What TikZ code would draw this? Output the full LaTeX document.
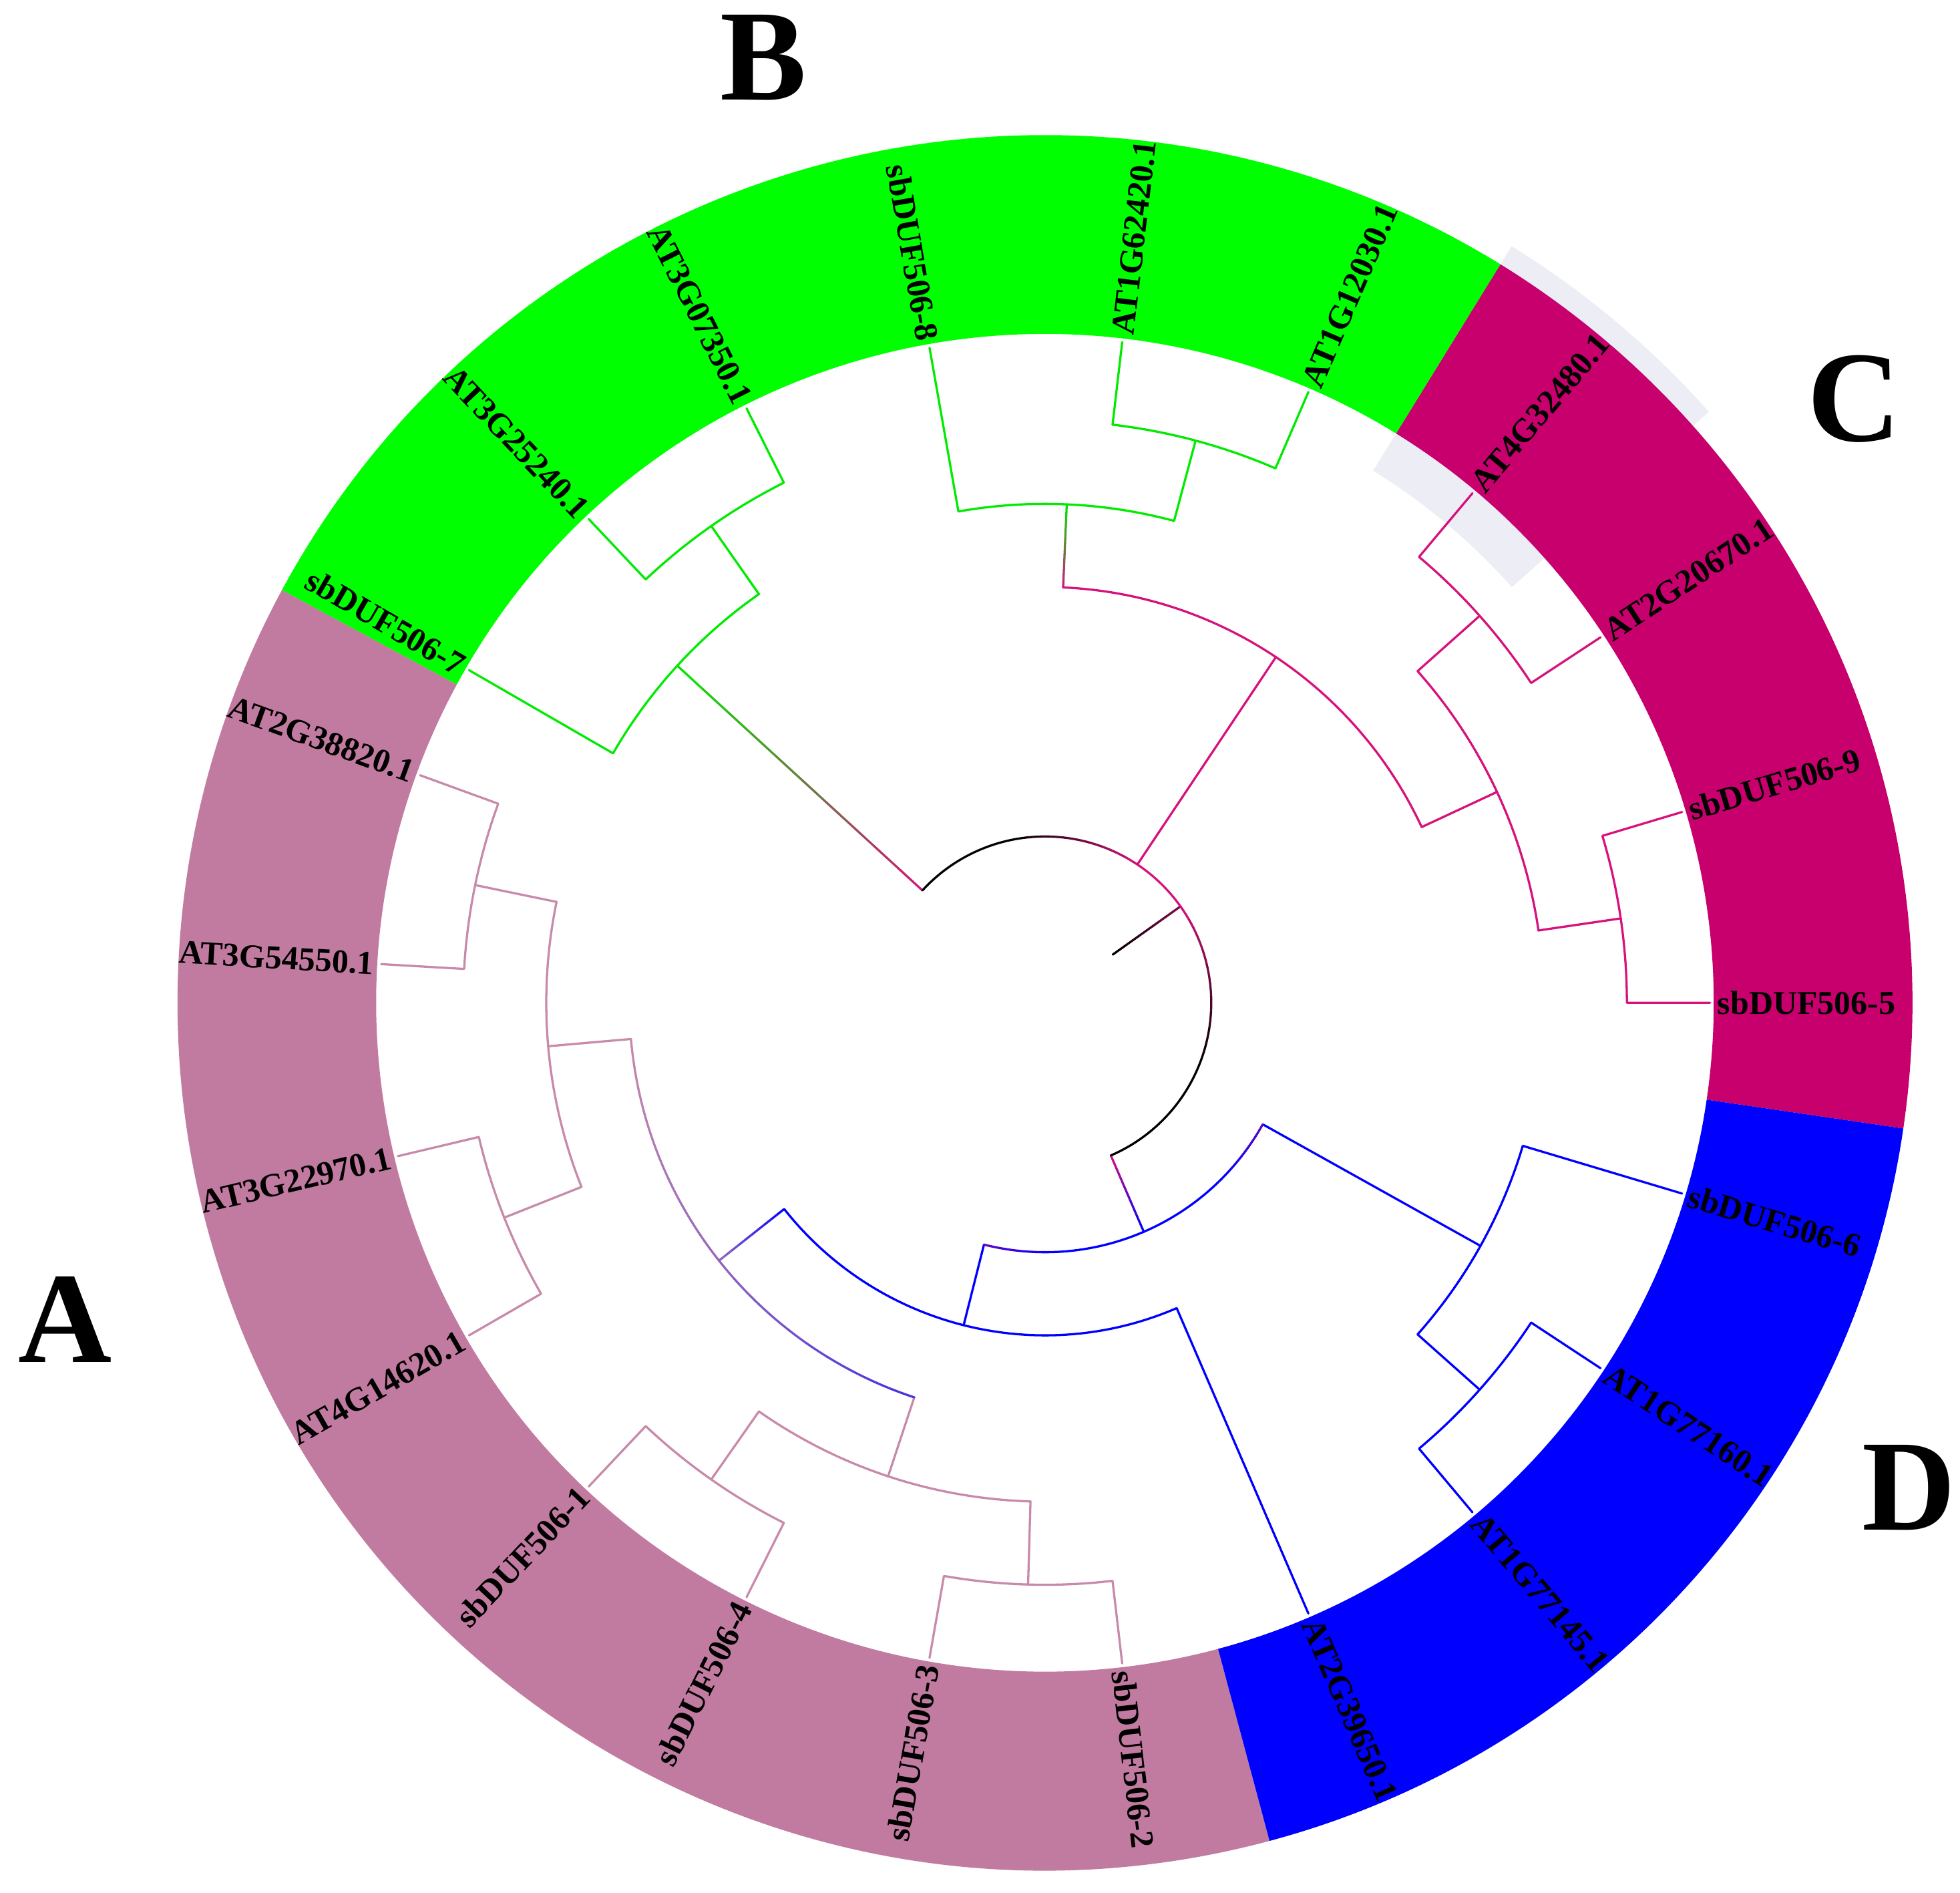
\documentclass[tikz,border=0pt]{standalone}
\usepackage{fontspec}
\setmainfont{Liberation Serif}
\usepackage{xcolor}

% ring colours
\definecolor{ringB}{RGB}{0,255,0}
\definecolor{ringC}{RGB}{200,0,110}
\definecolor{ringA}{RGB}{194,123,160}
\definecolor{ringD}{RGB}{0,0,255}
\definecolor{hilite}{RGB}{237,237,246}
% branch colours
\definecolor{cB}{RGB}{0,235,0}
\definecolor{cC}{RGB}{214,18,124}
\definecolor{cA}{RGB}{200,138,170}
\definecolor{cD}{RGB}{0,0,255}
\colorlet{cCdark}{cC!60!black}
\colorlet{cP}{cD!55!cC}
\colorlet{cAP}{cA!75!cD}
\colorlet{cAB}{cD!65!cA}

\tikzset{
  branch/.style={line width=0.5pt, line cap=round, line join=round},
  leaf/.style  ={font=\fontsize{7.6}{9}\selectfont\bfseries, inner sep=1.5pt},
  clade/.style ={font=\fontsize{29.5}{30}\selectfont\bfseries, inner sep=0pt},
}

% annular band: from, to, inner r, outer r, colour
\newcommand{\band}[5]{\fill[#5] (#1:#3) arc[start angle=#1, end angle=#2, radius=#3]
  -- (#2:#4) arc[start angle=#2, end angle=#1, radius=#4] -- cycle;}
% two leaves joined at level 7, stem down to level 6
\newcommand{\cherry}[3]{%
  \pgfmathsetmacro\cmid{(#1+#2)/2}
  \draw[branch,#3] (#1:5.32) -- (#1:4.655) arc[start angle=#1, end angle=#2, radius=4.655] -- (#2:5.32);
  \draw[branch,#3] (\cmid:4.655) -- (\cmid:3.99);}
% colour blended arc: radius, from, to, colour, colour
\newcommand{\gradarc}[5]{%
  \foreach \j in {1,...,10}{
    \pgfmathsetmacro\angA{#2+(#3-#2)*(\j-1)/10}
    \pgfmathsetmacro\angB{#2+(#3-#2)*\j/10}
    \pgfmathtruncatemacro\pc{105-10*\j}
    \draw[branch, #4!\pc!#5] (\angA:#1) arc[start angle=\angA, end angle=\angB, radius=#1];
  }}
% colour blended radial line: angle, r1, r2, colour, colour
\newcommand{\gradline}[5]{%
  \foreach \j in {1,...,10}{
    \pgfmathsetmacro\radA{#2+(#3-#2)*(\j-1)/10}
    \pgfmathsetmacro\radB{#2+(#3-#2)*\j/10}
    \pgfmathtruncatemacro\pc{105-10*\j}
    \draw[branch, #4!\pc!#5] (#1:\radA) -- (#1:\radB);
  }}

\begin{document}
\begin{tikzpicture}
\useasboundingbox (-8.36,-7.12) rectangle (7.32,8.02);

% highlight behind AT4G32480.1, then the clade ring
\band{41.667}{58.333}{5.0}{7.11}{hilite}
\band{-8.333}{58.333}{5.35}{6.94}{ringC}
\band{58.333}{151.6}{5.35}{6.94}{ringB}
\band{151.6}{285}{5.35}{6.94}{ringA}
\band{285}{351.667}{5.35}{6.94}{ringD}

% clade C
\cherry{0}{16.667}{cC}
\cherry{33.333}{50}{cC}
\draw[branch,cC] (8.333:3.99) arc[start angle=8.333, end angle=41.667, radius=3.99];
\draw[branch,cC] (25:3.99) -- (25:3.325);
% clade B
\cherry{66.667}{83.333}{cB}
\draw[branch,cB] (75:3.99) arc[start angle=75, end angle=100, radius=3.99] -- (100:5.32);
\gradline{87.5}{3.325}{3.99}{cC}{cB}
\draw[branch,cC] (25:3.325) arc[start angle=25, end angle=87.5, radius=3.325];
\draw[branch,cC] (56.25:3.325) -- (56.25:1.33);
\cherry{116.667}{133.333}{cB}
\draw[branch,cB] (125:3.99) arc[start angle=125, end angle=150, radius=3.99] -- (150:5.32);
\gradline{137.5}{1.33}{3.99}{cC}{cB}
% clade A
\cherry{160}{176.667}{cA}
\cherry{193.333}{210}{cA}
\cherry{226.667}{243.333}{cA}
\cherry{260}{276.667}{cA}
\draw[branch,cA] (168.333:3.99) arc[start angle=168.333, end angle=201.667, radius=3.99];
\draw[branch,cA] (185:3.99) -- (185:3.325);
\draw[branch,cA] (235:3.99) arc[start angle=235, end angle=268.333, radius=3.99];
\draw[branch,cA] (251.667:3.99) -- (251.667:3.325);
\gradarc{3.325}{185}{218.333}{cA}{cAP}
\gradarc{3.325}{218.333}{251.667}{cAP}{cAB}
\gradline{218.333}{2.66}{3.325}{cD}{cAP}
% clade D
\cherry{310}{326.667}{cD}
\draw[branch,cD] (318.333:3.99) arc[start angle=318.333, end angle=343.333, radius=3.99] -- (343.333:5.32);
\draw[branch,cD] (330.833:3.99) -- (330.833:1.995);
\draw[branch,cD] (218.333:2.66) arc[start angle=218.333, end angle=293.333, radius=2.66] -- (293.333:5.32);
\draw[branch,cD] (255.833:2.66) -- (255.833:1.995);
\gradarc{1.995}{255.833}{272}{cP}{cD}
\draw[branch,cD] (272:1.995) arc[start angle=272, end angle=316, radius=1.995];
\gradarc{1.995}{316}{330.833}{cD}{cP}
\gradline{293.333}{1.33}{1.995}{cC}{cD}
% root
\gradline{35.417}{0.665}{1.33}{black}{cCdark}
\draw[branch] (137.5:1.33) arc[start angle=137.5, end angle=100, radius=1.33];
\gradarc{1.33}{100}{56.25}{black}{cC}
\draw[branch,cC] (56.25:1.33) arc[start angle=56.25, end angle=35.417, radius=1.33];
\gradarc{1.33}{35.417}{-20}{cC}{black}
\draw[branch] (-20:1.33) arc[start angle=-20, end angle=-66.667, radius=1.33];

% leaf labels
\foreach \lab [count=\k from 0] in {AT2G38820.1,AT3G54550.1,AT3G22970.1,AT4G14620.1,
  sbDUF506-1,sbDUF506-4,sbDUF506-3,sbDUF506-2,AT2G39650.1,AT1G77145.1,AT1G77160.1,
  sbDUF506-6,sbDUF506-5,sbDUF506-9,AT2G20670.1,AT4G32480.1,AT1G12030.1,AT1G62420.1,
  sbDUF506-8,AT3G07350.1,AT3G25240.1,sbDUF506-7}{
  \pgfmathsetmacro\ang{160+\k*50/3}
  \pgfmathtruncatemacro\rside{(\ang>270)&&(\ang<450)}
  \ifnum\rside=1
    \node[leaf, anchor=west, rotate=\ang] (l\k) at (\ang:5.32) {\lab};
  \else
    \node[leaf, anchor=east, rotate=\ang+180] (l\k) at (\ang:5.32) {\lab};
  \fi
}

% clade letters
\node[clade] (labA) at (-7.84,-2.535) {A};
\node[clade] (labB) at (-2.255,7.561) {B};
\node[clade] (labC) at (6.476,4.827) {C};
\node[clade] (labD) at (6.91,-3.88) {D};

\end{tikzpicture}
\end{document}
